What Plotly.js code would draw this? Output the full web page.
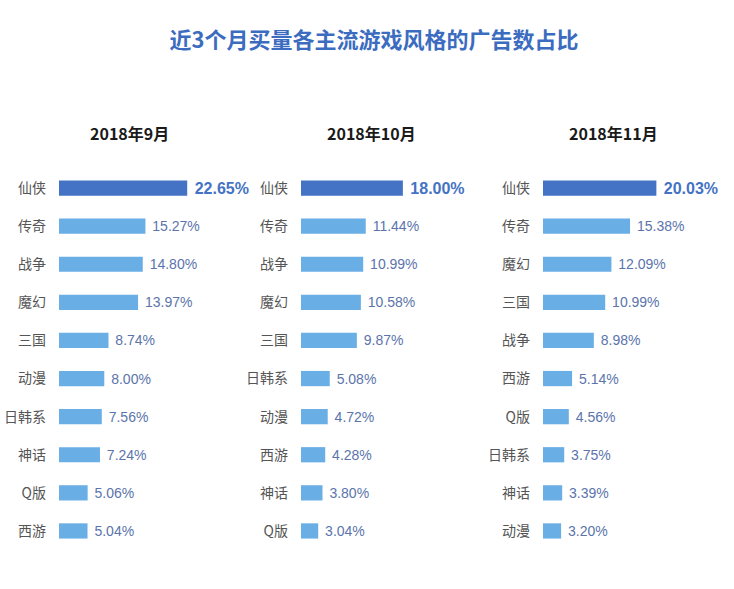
<!DOCTYPE html>
<html><head><meta charset="utf-8">
<script src="https://cdn.plot.ly/plotly-3.0.1.min.js"></script>
<style>html,body{margin:0;padding:0;background:#fff}</style>
</head><body><div id="chart" style="width:734px;height:589px"></div>
<script>
const chartTitle = '近3个月买量各主流游戏风格的广告数占比';
const months = ['2018年9月', '2018年10月', '2018年11月'];

const catsSep = ['仙侠', '传奇', '战争', '魔幻', '三国', '动漫', '日韩系', '神话', 'Q版', '西游'];
const valsSep = [22.65, 15.27, 14.80, 13.97, 8.74, 8.00, 7.56, 7.24, 5.06, 5.04];

const catsOct = ['仙侠', '传奇', '战争', '魔幻', '三国', '日韩系', '动漫', '西游', '神话', 'Q版'];
const valsOct = [18.00, 11.44, 10.99, 10.58, 9.87, 5.08, 4.72, 4.28, 3.80, 3.04];

const catsNov = ['仙侠', '传奇', '魔幻', '三国', '战争', '西游', 'Q版', '日韩系', '神话', '动漫'];
const valsNov = [20.03, 15.38, 12.09, 10.99, 8.98, 5.14, 4.56, 3.75, 3.39, 3.20];

const panels = [[catsSep, valsSep], [catsOct, valsOct], [catsNov, valsNov]];

const W = 734, H = 589;
const FONT = '"Noto Sans CJK SC", "Noto Sans", sans-serif';
const NUMFONT = '"Liberation Sans", Arial, sans-serif';
const pxPerUnit = 5.66;
const barStarts = [59, 301, 543];
const panelW = 185;
const rowTop = 169, rowBottom = 550;

const data = [];
const layout = {
  width: W, height: H,
  margin: {l: 0, r: 0, t: 0, b: 0},
  paper_bgcolor: '#fff', plot_bgcolor: 'rgba(0,0,0,0)',
  showlegend: false,
  font: {family: FONT},
  title: {
    text: '<b>' + chartTitle + '</b>',
    font: {family: FONT, size: 22, color: '#3b6cc0'},
    x: 374 / W, xanchor: 'center', y: 1 - 40 / H, yanchor: 'middle'
  },
  annotations: []
};

panels.forEach(([cats, vals], i) => {
  const n = i + 1;
  const xa = n === 1 ? 'x' : 'x' + n;
  const ya = n === 1 ? 'y' : 'y' + n;
  data.push({
    type: 'bar', orientation: 'h',
    x: vals, y: cats,
    xaxis: xa, yaxis: ya,
    width: 0.4,
    marker: {color: vals.map((v, k) => k === 0 ? '#4472C4' : '#6AAEE6')},
    text: vals.map((v, k) => k === 0 ? '\u00a0<b>' + v.toFixed(2) + '%</b>' : '\u00a0' + v.toFixed(2) + '%'),
    textposition: 'outside',
    constraintext: 'none',
    cliponaxis: false,
    textfont: {
      family: NUMFONT,
      size: vals.map((v, k) => k === 0 ? 16 : 14),
      color: vals.map((v, k) => k === 0 ? '#4472C4' : '#5b74ab')
    },
    hoverinfo: 'none'
  });
  const x0 = barStarts[i];
  layout['xaxis' + (n === 1 ? '' : n)] = {
    domain: [x0 / W, (x0 + panelW) / W],
    range: [0, panelW / pxPerUnit],
    anchor: ya,
    showgrid: false, zeroline: false, showline: false,
    showticklabels: false, ticks: '', fixedrange: true
  };
  layout['yaxis' + (n === 1 ? '' : n)] = {
    domain: [1 - rowBottom / H, 1 - rowTop / H],
    type: 'category',
    range: [cats.length - 0.5, -0.5],
    anchor: xa,
    showgrid: false, zeroline: false, showline: false, ticks: '',
    ticklabelstandoff: 12,
    tickfont: {family: FONT, size: 14, color: '#555555'},
    fixedrange: true
  };
  layout.annotations.push({
    text: '<b>' + months[i] + '</b>',
    xref: 'paper', yref: 'paper',
    x: (x0 + 70) / W, y: 1 - 133 / H,
    xanchor: 'center', yanchor: 'middle',
    showarrow: false,
    font: {family: FONT, size: 16, color: '#1a1a1a'}
  });
});

Plotly.newPlot('chart', data, layout, {displayModeBar: false, staticPlot: true});
</script>
</body></html>
